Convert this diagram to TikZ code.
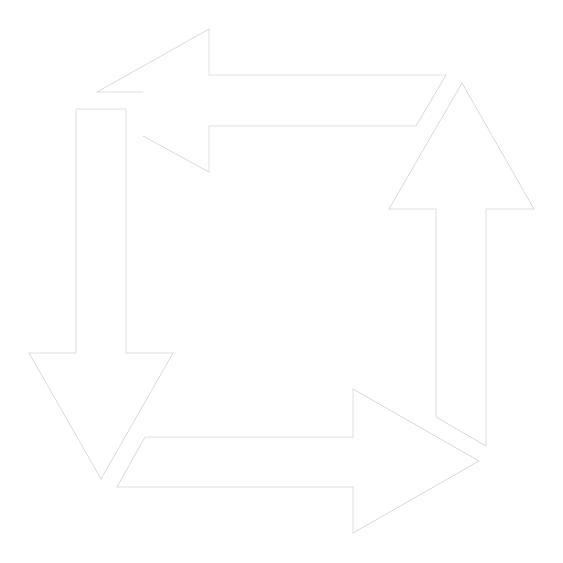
\documentclass[tikz,border=0pt]{standalone}
\definecolor{edge}{RGB}{212,212,212}
\begin{document}
\begin{tikzpicture}[x=1pt,y=-1pt,
  arrowshape/.style={draw=edge,line width=0.6pt,line join=miter,fill=white}]
\useasboundingbox (0,0) rectangle (563,563);
% top arrow (pointing left), partly hidden near its tip
\draw[arrowshape,fill=none] (143,92) -- (97,92) -- (209,29) -- (209,75) -- (446,75)
  -- (416,126) -- (209,126) -- (209,172) -- (143,136);
% right arrow (pointing up)
\draw[arrowshape] (436,417) -- (436,209) -- (389,209) -- (462,83) -- (534,209)
  -- (486,209) -- (486,446) -- cycle;
% left arrow (pointing down)
\draw[arrowshape] (76,109) -- (126,109) -- (126,353) -- (173,353) -- (101,479)
  -- (29,353) -- (76,353) -- cycle;
% bottom arrow (pointing right)
\draw[arrowshape] (145,437) -- (353,437) -- (353,389) -- (479,461) -- (353,533)
  -- (353,487) -- (117,487) -- cycle;
\end{tikzpicture}
\end{document}
